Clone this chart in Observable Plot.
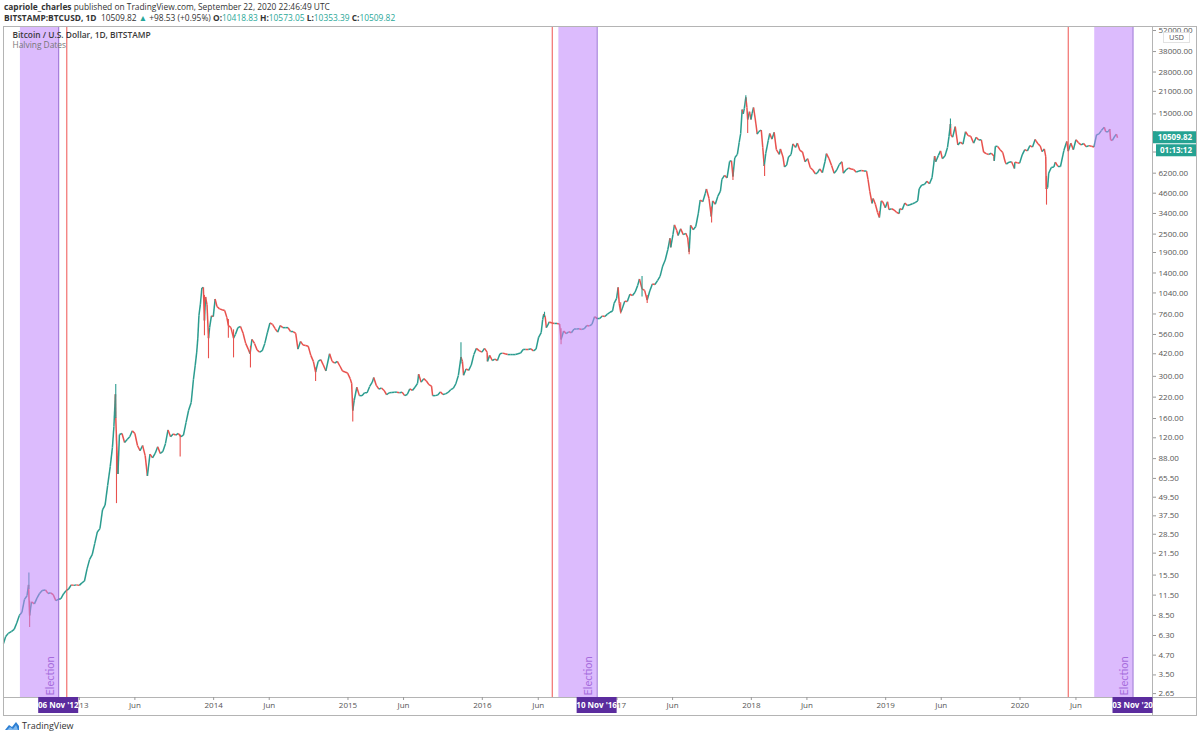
<!DOCTYPE html>
<html><head><meta charset="utf-8">
<script src="https://cdn.jsdelivr.net/npm/d3@7"></script>
<script src="https://cdn.jsdelivr.net/npm/@observablehq/plot@0.6"></script>
<style>
html,body{margin:0;padding:0;background:#fff}
body{width:1200px;height:738px;overflow:hidden;position:relative;font-family:"Open Sans","Noto Sans",sans-serif;color:#333}
.hdr{position:absolute;left:4px;font-size:8.4px;white-space:nowrap;line-height:11px}
#h1{top:1px}
#h2{top:12px}
.tl{color:#2aa899}
#chart{position:absolute;left:0;top:26px}
#foot{position:absolute;left:4px;top:719px;font-size:9px;color:#333;display:flex;align-items:center;gap:2px}
</style></head><body>
<div class="hdr" id="h1"></div>
<div class="hdr" id="h2"></div>
<div id="chart"></div>
<div id="foot"><svg width="16" height="12" viewBox="0 0 16 12"><path d="M1 10 L5 5 L8 7 L12 2 L15 6 L15 10 Z" fill="#2d7fd3"/><path d="M3 10 L6 7 L9 9 L12 5 L14 10 Z" fill="#7fb8ee"/></svg><span>TradingView</span></div>
<script>
// ---------- data ----------
const btc2012 = [["2012-06-09",5.6],["2012-06-15",6.2],["2012-06-22",6.5],["2012-07-01",6.7],["2012-07-08",6.9],["2012-07-15",7.6],["2012-07-22",8.5],["2012-07-29",8.9],["2012-08-05",10.8],["2012-08-12",11.4],["2012-08-16",13.4],["2012-08-19",8.5],["2012-08-24",10.4],["2012-09-01",10.1],["2012-09-08",11.0],["2012-09-15",11.8],["2012-09-22",12.3],["2012-10-01",12.4],["2012-10-08",11.8],["2012-10-15",11.9],["2012-10-22",11.6],["2012-10-29",10.6],["2012-11-05",10.8],["2012-11-12",10.9],["2012-11-19",11.7],["2012-11-26",12.3],["2012-12-03",12.6],["2012-12-10",13.4],["2012-12-17",13.3],["2012-12-24",13.4]];
const btc2013 = [["2013-01-01",13.3],["2013-01-08",13.8],["2013-01-15",14.2],["2013-01-22",17.0],["2013-01-29",19.6],["2013-02-05",21.0],["2013-02-12",24.9],["2013-02-19",29.5],["2013-02-26",31.0],["2013-03-05",41.0],["2013-03-12",44.0],["2013-03-19",59.0],["2013-03-26",78.0],["2013-04-01",104],["2013-04-05",142],["2013-04-09",230],["2013-04-10",165],["2013-04-12",118],["2013-04-16",70],["2013-04-20",126],["2013-04-27",128],["2013-05-04",112],["2013-05-11",117],["2013-05-18",122],["2013-05-25",133],["2013-06-01",128],["2013-06-08",107],["2013-06-15",99],["2013-06-22",107],["2013-06-29",92],["2013-07-05",68],["2013-07-12",94],["2013-07-19",89],["2013-07-26",95],["2013-08-02",105],["2013-08-09",95],["2013-08-16",98],["2013-08-23",110],["2013-08-30",135],["2013-09-06",122],["2013-09-13",127],["2013-09-20",125],["2013-09-27",128],["2013-10-04",122],["2013-10-11",125],["2013-10-18",151],["2013-10-25",181],["2013-11-01",203],["2013-11-07",285],["2013-11-12",355],["2013-11-16",430],["2013-11-19",530],["2013-11-22",740],["2013-11-26",880],["2013-11-30",1120],["2013-12-04",1130],["2013-12-07",690],["2013-12-10",980],["2013-12-14",870],["2013-12-18",530],["2013-12-21",620],["2013-12-26",740],["2013-12-31",730]];
const btc2014 = [["2014-01-05",950],["2014-01-10",850],["2014-01-17",820],["2014-01-24",810],["2014-01-31",800],["2014-02-06",720],["2014-02-10",640],["2014-02-17",620],["2014-02-24",530],["2014-03-01",560],["2014-03-08",620],["2014-03-15",630],["2014-03-22",570],["2014-03-29",490],["2014-04-05",450],["2014-04-10",420],["2014-04-15",520],["2014-04-22",490],["2014-04-29",445],["2014-05-06",430],["2014-05-13",440],["2014-05-20",490],["2014-05-27",575],["2014-06-03",665],["2014-06-10",650],["2014-06-17",610],["2014-06-24",580],["2014-07-01",640],["2014-07-08",620],["2014-07-15",620],["2014-07-22",620],["2014-07-29",585],["2014-08-05",585],["2014-08-12",570],["2014-08-18",450],["2014-08-25",505],["2014-09-01",478],["2014-09-08",475],["2014-09-15",470],["2014-09-22",410],["2014-09-29",375],["2014-10-05",320],["2014-10-12",375],["2014-10-19",385],["2014-10-26",355],["2014-11-02",325],["2014-11-12",420],["2014-11-19",375],["2014-11-26",365],["2014-12-03",375],["2014-12-10",350],["2014-12-17",325],["2014-12-24",320],["2014-12-31",315]];
const btc2015 = [["2015-01-07",290],["2015-01-11",270],["2015-01-14",180],["2015-01-18",210],["2015-01-25",255],["2015-02-01",225],["2015-02-08",225],["2015-02-15",235],["2015-02-22",235],["2015-03-01",258],["2015-03-08",275],["2015-03-12",295],["2015-03-19",262],["2015-03-26",248],["2015-04-02",252],["2015-04-09",243],["2015-04-16",228],["2015-04-23",235],["2015-04-30",236],["2015-05-07",237],["2015-05-14",237],["2015-05-21",235],["2015-05-28",237],["2015-06-04",225],["2015-06-11",229],["2015-06-18",249],["2015-06-25",243],["2015-07-02",255],["2015-07-09",270],["2015-07-12",310],["2015-07-19",275],["2015-07-26",290],["2015-08-02",280],["2015-08-09",265],["2015-08-16",259],["2015-08-19",225],["2015-08-26",225],["2015-09-02",227],["2015-09-09",238],["2015-09-16",229],["2015-09-23",231],["2015-09-30",236],["2015-10-07",246],["2015-10-14",251],["2015-10-21",268],["2015-10-28",304],["2015-11-04",400],["2015-11-08",375],["2015-11-11",305],["2015-11-18",335],["2015-11-25",328],["2015-12-02",355],["2015-12-09",415],["2015-12-16",455],["2015-12-23",440],["2015-12-31",430]];
const btc2016 = [["2016-01-07",455],["2016-01-14",430],["2016-01-15",375],["2016-01-21",410],["2016-01-28",380],["2016-02-04",388],["2016-02-11",380],["2016-02-18",420],["2016-02-25",424],["2016-03-03",420],["2016-03-10",415],["2016-03-17",415],["2016-03-24",415],["2016-03-31",415],["2016-04-07",420],["2016-04-14",425],["2016-04-21",448],["2016-04-28",448],["2016-05-05",447],["2016-05-12",452],["2016-05-19",439],["2016-05-26",450],["2016-06-02",537],["2016-06-09",575],["2016-06-13",700],["2016-06-16",760],["2016-06-20",725],["2016-06-23",620],["2016-06-27",645],["2016-07-01",675],["2016-07-08",665],["2016-07-15",660],["2016-07-22",660],["2016-07-29",655],["2016-08-02",520],["2016-08-09",590],["2016-08-16",567],["2016-08-23",583],["2016-08-30",575],["2016-09-06",607],["2016-09-13",608],["2016-09-20",609],["2016-09-27",604],["2016-10-04",610],["2016-10-11",640],["2016-10-18",636],["2016-10-25",652],["2016-11-01",730],["2016-11-08",710],["2016-11-15",710],["2016-11-22",738],["2016-11-29",732],["2016-12-06",758],["2016-12-13",780],["2016-12-20",795],["2016-12-24",890],["2016-12-31",960]];
const btc2017 = [["2017-01-04",1130],["2017-01-07",890],["2017-01-11",780],["2017-01-15",820],["2017-01-22",920],["2017-01-29",915],["2017-02-05",1020],["2017-02-12",1000],["2017-02-19",1050],["2017-02-26",1160],["2017-03-03",1280],["2017-03-10",1105],["2017-03-17",1080],["2017-03-24",935],["2017-03-31",1070],["2017-04-07",1190],["2017-04-14",1180],["2017-04-21",1250],["2017-04-28",1330],["2017-05-05",1550],["2017-05-12",1700],["2017-05-19",1980],["2017-05-25",2350],["2017-05-27",2050],["2017-06-02",2480],["2017-06-06",2870],["2017-06-12",2650],["2017-06-16",2450],["2017-06-23",2710],["2017-06-30",2480],["2017-07-07",2530],["2017-07-12",2370],["2017-07-16",1920],["2017-07-20",2850],["2017-07-27",2670],["2017-08-03",2800],["2017-08-10",3420],["2017-08-15",4150],["2017-08-22",4050],["2017-08-29",4600],["2017-09-01",4900],["2017-09-08",4250],["2017-09-14",3250],["2017-09-18",4100],["2017-09-25",3900],["2017-10-02",4400],["2017-10-09",4750],["2017-10-13",5650],["2017-10-20",6000],["2017-10-27",5780],["2017-11-03",7400],["2017-11-08",7450],["2017-11-12",5900],["2017-11-17",7800],["2017-11-24",8200],["2017-11-29",9800],["2017-12-03",11200],["2017-12-07",16000],["2017-12-10",15000],["2017-12-13",16300],["2017-12-17",19200],["2017-12-20",16500],["2017-12-22",13800],["2017-12-27",15500],["2017-12-31",13800]];
const btc2018 = [["2018-01-03",15100],["2018-01-07",16500],["2018-01-12",13700],["2018-01-17",11100],["2018-01-21",11500],["2018-01-28",11800],["2018-02-01",9100],["2018-02-05",6900],["2018-02-09",8300],["2018-02-16",10100],["2018-02-20",11200],["2018-02-26",10300],["2018-03-04",11400],["2018-03-10",8800],["2018-03-18",8200],["2018-03-21",8900],["2018-03-28",7900],["2018-04-01",6800],["2018-04-07",7000],["2018-04-12",7900],["2018-04-19",8200],["2018-04-24",9600],["2018-05-01",9100],["2018-05-06",9700],["2018-05-13",8700],["2018-05-20",8500],["2018-05-27",7350],["2018-06-03",7700],["2018-06-10",6750],["2018-06-17",6500],["2018-06-24",6150],["2018-06-29",6200],["2018-07-06",6600],["2018-07-13",6250],["2018-07-20",7350],["2018-07-24",8300],["2018-07-31",7700],["2018-08-07",6950],["2018-08-14",6200],["2018-08-21",6500],["2018-08-28",7050],["2018-09-04",7350],["2018-09-08",6200],["2018-09-15",6500],["2018-09-22",6700],["2018-09-29",6600],["2018-10-06",6550],["2018-10-13",6300],["2018-10-20",6400],["2018-10-27",6450],["2018-11-03",6400],["2018-11-10",6400],["2018-11-14",5650],["2018-11-19",4700],["2018-11-25",3950],["2018-11-28",4250],["2018-12-04",3900],["2018-12-10",3450],["2018-12-15",3200],["2018-12-20",4100],["2018-12-24",4050],["2018-12-31",3700]];
const btc2019 = [["2019-01-06",4050],["2019-01-10",3600],["2019-01-17",3650],["2019-01-24",3580],["2019-01-31",3450],["2019-02-07",3400],["2019-02-08",3650],["2019-02-15",3600],["2019-02-22",3980],["2019-03-01",3830],["2019-03-08",3870],["2019-03-15",3930],["2019-03-22",4000],["2019-03-29",4100],["2019-04-02",4900],["2019-04-09",5200],["2019-04-16",5230],["2019-04-23",5500],["2019-04-30",5300],["2019-05-07",5800],["2019-05-11",6900],["2019-05-14",8000],["2019-05-17",7350],["2019-05-24",8050],["2019-05-30",8650],["2019-06-04",7700],["2019-06-11",8000],["2019-06-18",9100],["2019-06-22",10700],["2019-06-26",12900],["2019-06-27",11000],["2019-07-02",10600],["2019-07-09",12400],["2019-07-16",9450],["2019-07-23",9850],["2019-07-30",9550],["2019-08-06",11500],["2019-08-13",10850],["2019-08-20",10750],["2019-08-28",9700],["2019-09-04",10600],["2019-09-11",10150],["2019-09-18",10200],["2019-09-24",8500],["2019-10-01",8300],["2019-10-08",8200],["2019-10-15",8350],["2019-10-22",8000],["2019-10-23",7450],["2019-10-26",9250],["2019-11-01",9250],["2019-11-08",8800],["2019-11-15",8450],["2019-11-22",7300],["2019-11-25",7100],["2019-12-02",7300],["2019-12-09",7350],["2019-12-17",6650],["2019-12-18",7300],["2019-12-25",7250],["2019-12-31",7200]];
const btc2020 = [["2020-01-07",8150],["2020-01-14",8800],["2020-01-21",8650],["2020-01-28",9350],["2020-02-04",9150],["2020-02-11",10250],["2020-02-15",9900],["2020-02-19",9600],["2020-02-25",9300],["2020-03-01",8550],["2020-03-07",8900],["2020-03-11",7900],["2020-03-12",4900],["2020-03-16",5000],["2020-03-19",6200],["2020-03-26",6750],["2020-04-02",6800],["2020-04-06",7300],["2020-04-13",6850],["2020-04-20",6850],["2020-04-29",8650],["2020-05-07",9950],["2020-05-11",8600],["2020-05-18",9700],["2020-05-25",8800],["2020-06-01",10200],["2020-06-08",9750],["2020-06-15",9450],["2020-06-22",9650],["2020-06-29",9200],["2020-07-06",9350],["2020-07-13",9250],["2020-07-20",9160],["2020-07-27",11000],["2020-08-02",11100],["2020-08-09",11700],["2020-08-17",12300],["2020-08-21",11500],["2020-08-28",11500],["2020-09-01",11950],["2020-09-03",10200],["2020-09-08",10100],["2020-09-15",10800],["2020-09-19",11100],["2020-09-22",10510]];

// notable wicks (date, low, high, direction of the spike)
const wickDates = ["2012-08-17","2012-08-19","2013-04-10","2013-04-12","2013-10-02","2013-12-07","2013-12-18","2014-02-10","2014-02-24","2014-04-11","2014-10-05","2015-01-14","2015-11-04","2016-06-18","2016-08-02","2017-01-11","2017-03-10","2017-03-24","2017-07-16","2017-09-15","2017-11-12","2017-12-17","2017-12-22","2018-02-06","2018-12-15","2019-06-26","2020-03-13"];
const wickLows  = [12.5,7.1,160,45,90,550,390,530,395,340,278,152,360,720,480,760,980,890,1840,2950,5550,18000,11200,5900,3200,12000,3850];
const wickHighs = [16,10.5,266,125,125,1000,600,700,600,470,340,215,495,780,610,900,1330,1000,2000,3750,6500,19666,15000,7000,3500,13880,5900];
const wickDir   = ["u","d","u","d","d","d","d","d","d","d","d","d","u","u","d","d","u","d","d","d","d","u","d","d","d","u","d"];

// pre-election shading, election dates, halvings
const bandStarts = ["2012-07-25","2016-07-27","2020-07-22"];
const electionDates = ["2012-11-06","2016-11-08","2020-11-03"];
const electionTags = ["06 Nov '12","10 Nov '16","03 Nov '20"];
const halvingDates = ["2012-11-28","2016-07-09","2020-05-11"];

// axes
const yTicks = [2.65,3.5,4.7,6.3,8.5,11.5,15.5,21.5,28.5,37.5,49.5,65.5,88,120,160,220,300,420,560,760,1040,1400,1900,2500,3400,4600,6200,8500,11500,15000,21000,28000,38000,52000];
const yTicksUnderPriceTag = [8500,11500];
const xTickDates = ["2013-01-01","2013-06-01","2014-01-01","2014-06-01","2015-01-01","2015-06-01","2016-01-01","2016-06-01","2017-01-01","2017-06-01","2018-01-01","2018-06-01","2019-01-01","2019-06-01","2020-01-01","2020-06-01"];
const xDomain = ["2012-06-09","2020-12-26"];
const yDomain = [2.5,55200];

// header values
const headerOHLC = [["O","10418.83"],["H","10573.05"],["L","10353.39"],["C","10509.82"]];
const lastPrice = 10509.82;
const countdown = "01:13:12";

// ---------- build ----------
const UP = "#2b9c8f", DOWN = "#e8524e";
const D = s => new Date(s + "T00:00:00Z");
const rows = [btc2012,btc2013,btc2014,btc2015,btc2016,btc2017,btc2018,btc2019,btc2020].flat().map(([d,c]) => ({date: D(d), close: c}));
const segs = rows.slice(1).map((r,i) => ({x1: rows[i].date, y1: rows[i].close, x2: r.date, y2: r.close, up: r.close >= rows[i].close}));
const wicks = wickDates.map((d,i) => ({date: D(d), low: wickLows[i], high: wickHighs[i], up: wickDir[i] === "u"}));
const bands = bandStarts.map((s,i) => ({start: D(s), end: D(electionDates[i]), tag: electionTags[i]}));
const halvings = halvingDates.map(D);
const yLabelTicks = yTicks.filter(t => !yTicksUnderPriceTag.includes(t));

document.getElementById("h1").innerHTML = '<b>capriole_charles</b> published on TradingView.com, September 22, 2020 22:46:49 UTC';
document.getElementById("h2").innerHTML = '<b>BITSTAMP:BTCUSD, 1D</b>&nbsp; 10509.82 <span style="color:#26a69a">▲</span> +98.53 (+0.95%) ' +
  headerOHLC.map(([k,v]) => `<b>${k}:</b><span class="tl">${v}</span>`).join(" ");

const FONT = '"Open Sans","Noto Sans",sans-serif';
const plot = Plot.plot({
  width: 1200, height: 690,
  marginLeft: 3, marginRight: 48, marginTop: 0, marginBottom: 19,
  style: {fontFamily: FONT, fontSize: "8px", color: "#4a4a4a", background: "transparent", overflow: "visible"},
  x: {type: "utc", domain: xDomain.map(D)},
  y: {type: "log", domain: yDomain},
  marks: [
    Plot.link(segs, {x1: "x1", y1: "y1", x2: "x2", y2: "y2", stroke: d => d.up ? UP : DOWN, strokeWidth: 1.5}),
    Plot.ruleX(wicks, {x: "date", y1: "low", y2: "high", stroke: d => d.up ? UP : DOWN, strokeWidth: 1.1}),
    Plot.rect(bands, {x1: "start", x2: "end", fill: "#c084fc", fillOpacity: 0.55}),
    Plot.ruleX(bands, {x: "end", stroke: "#9263d4", strokeWidth: 1}),
    Plot.ruleX(halvings, {stroke: "#ef5350", strokeWidth: 1}),
    Plot.text(bands, {x: "end", text: () => "Election", frameAnchor: "bottom", rotate: -90, textAnchor: "start", dx: -5, dy: -2, fill: "#a66cdc", fontSize: 11, fontFamily: "Lato, 'Open Sans', sans-serif"}),
    Plot.text(["Bitcoin / U.S. Dollar, 1D, BITSTAMP"], {frameAnchor: "top-left", dx: 9, dy: 6, fill: "#3a3a3a", fontSize: 8.4, fontWeight: 600}),
    Plot.text(["Halving Dates"], {frameAnchor: "top-left", dx: 9, dy: 16, fill: "#777", fontSize: 8.4}),
    Plot.frame({stroke: "#b4b4b4"}),
    Plot.axisY({anchor: "right", ticks: yTicks, tickFormat: () => "", tickSize: 3, stroke: "#999"}),
    Plot.text(yLabelTicks, {y: d => d, text: d => d.toFixed(2), frameAnchor: "right", dx: 6, textAnchor: "start", fill: "#555", fontSize: 8}),
    Plot.axisX({ticks: xTickDates.map(D), tickFormat: d => d.getUTCMonth() === 0 ? String(d.getUTCFullYear()) : "Jun", tickSize: 3, tickPadding: 2, stroke: "#999", fill: "#555"})
  ]
});
document.getElementById("chart").appendChild(plot);

// ---------- overlays placed with the plot's own scales ----------
const xs = plot.scale("x"), ys = plot.scale("y");
const sx = xs.apply ? v => xs.apply(v) : d3.scaleUtc(xs.domain, xs.range);
const sy = ys.apply ? v => ys.apply(v) : d3.scaleLog(ys.domain, ys.range);
const svg = d3.select(plot);
const plotBottom = 690 - 19, plotRight = 1200 - 48;

// outer frame + extensions of the separators
svg.append("rect").attr("x", 3.5).attr("y", 0.5).attr("width", 1193).attr("height", 689).attr("fill", "none").attr("stroke", "#b4b4b4");
svg.append("line").attr("x1", plotRight).attr("x2", 1196.5).attr("y1", plotBottom + 0.5).attr("y2", plotBottom + 0.5).attr("stroke", "#b4b4b4");
svg.append("line").attr("x1", plotRight + 0.5).attr("x2", plotRight + 0.5).attr("y1", plotBottom).attr("y2", 690).attr("stroke", "#b4b4b4");

// election date tags on the time axis
const tagG = svg.append("g").attr("font-family", FONT).attr("font-size", 8).attr("font-weight", 700);
bands.forEach(b => {
  const cx = sx(b.end);
  tagG.append("rect").attr("x", cx - 20).attr("y", plotBottom).attr("width", 40).attr("height", 16).attr("fill", "#5b2c9e");
  tagG.append("text").attr("x", cx).attr("y", plotBottom + 11).attr("text-anchor", "middle").attr("fill", "#fff").text(b.tag);
});

// last price + countdown tags
const py = sy(lastPrice);
svg.append("rect").attr("x", plotRight + 1).attr("y", py - 6).attr("width", 43).attr("height", 12).attr("fill", "#25a292");
svg.append("text").attr("x", plotRight + 23).attr("y", py + 3).attr("text-anchor", "middle").attr("fill", "#fff").attr("font-size", 8).attr("font-weight", 700).attr("font-family", FONT).text(lastPrice.toFixed(2));
svg.append("rect").attr("x", plotRight + 4).attr("y", py + 7).attr("width", 40).attr("height", 12).attr("fill", "#25a292");
svg.append("text").attr("x", plotRight + 24).attr("y", py + 16).attr("text-anchor", "middle").attr("fill", "#fff").attr("font-size", 8).attr("font-weight", 700).attr("font-family", FONT).text(countdown);

// USD currency label
svg.append("rect").attr("x", plotRight + 11.5).attr("y", 6.5).attr("width", 26).attr("height", 10).attr("fill", "#fff").attr("stroke", "#e2e2e2");
svg.append("text").attr("x", plotRight + 24.5).attr("y", 14).attr("text-anchor", "middle").attr("fill", "#555").attr("font-size", 7.5).attr("font-family", FONT).text("USD");
</script>
</body></html>
